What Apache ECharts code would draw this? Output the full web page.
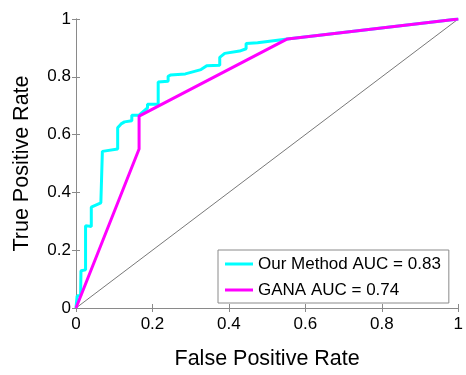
<!DOCTYPE html>
<html>
<head>
<meta charset="utf-8">
<script src="https://cdn.jsdelivr.net/npm/echarts@6/dist/echarts.min.js"></script>
<style>
  html, body { margin: 0; padding: 0; background: #fff; }
  #chart { width: 466px; height: 375px; }
</style>
</head>
<body>
<div id="chart"></div>
<script>
// ROC points (FPR, TPR)
const oursFpr = [0, 0.003, 0.012, 0.013, 0.025, 0.025, 0.04, 0.04, 0.065, 0.069, 0.069, 0.109, 0.109, 0.118, 0.127, 0.146, 0.146, 0.165, 0.187, 0.187, 0.215, 0.215, 0.241, 0.241, 0.247, 0.286, 0.327, 0.342, 0.376, 0.376, 0.389, 0.428, 0.445, 0.445, 0.475, 0.553, 1]
const oursTpr = [0, 0.042, 0.042, 0.129, 0.132, 0.285, 0.282, 0.349, 0.364, 0.37, 0.542, 0.55, 0.624, 0.637, 0.644, 0.648, 0.667, 0.667, 0.692, 0.705, 0.705, 0.782, 0.785, 0.802, 0.806, 0.81, 0.825, 0.838, 0.84, 0.867, 0.881, 0.889, 0.897, 0.915, 0.918, 0.931, 1]
const ganaFpr = [0, 0.165, 0.165, 0.553, 1]
const ganaTpr = [0, 0.55, 0.664, 0.931, 1]
const chanceFpr = [0, 1]
const chanceTpr = [0, 1]

const seriesNames = ["Our Method AUC = 0.83", "GANA AUC = 0.74"]

const zip = (xs, ys) => xs.map((x, i) => [x, ys[i]])
const font = "'Liberation Sans', Arial, sans-serif"
const boxColor = "#8a8a8a"

const chart = echarts.init(document.getElementById("chart"))

const axisCommon = {
  type: "value",
  min: 0,
  max: 1,
  interval: 0.2,
  splitLine: { show: false },
  axisLine: { show: true, lineStyle: { color: boxColor, width: 1 } },
  axisTick: { show: true, inside: true, length: 4, lineStyle: { color: boxColor } },
}

chart.setOption({
  animation: false,
  backgroundColor: "#fff",
  textStyle: { fontFamily: font },
  grid: { left: 76, right: 3, top: 19, bottom: 61 },
  xAxis: [
    {
      ...axisCommon,
      position: "bottom",
      name: "False Positive Rate",
      nameLocation: "middle",
      nameGap: 40,
      nameTextStyle: { fontSize: 21.5, color: "#000", fontFamily: font },
      axisLabel: { fontSize: 17, color: "#000", margin: 8, fontFamily: font },
    },
    { ...axisCommon, position: "top", axisLabel: { show: false } },
  ],
  yAxis: [
    {
      ...axisCommon,
      position: "left",
      name: "True Positive Rate",
      nameLocation: "middle",
      nameGap: 43,
      nameTextStyle: { fontSize: 21.5, color: "#000", fontFamily: font },
      axisLabel: { fontSize: 17, color: "#000", margin: 5, fontFamily: font },
    },
    { ...axisCommon, position: "right", axisLabel: { show: false } },
  ],
  legend: {
    orient: "vertical",
    left: 218,
    top: 250,
    padding: [4, 8, 3, 7],
    icon: "rect",
    itemWidth: 28,
    itemHeight: 3,
    itemGap: 6,
    borderColor: boxColor,
    borderWidth: 1,
    backgroundColor: "#fff",
    textStyle: { fontSize: 17, color: "#000", lineHeight: 20, fontFamily: font },
    data: seriesNames,
  },
  series: [
    {
      name: "chance",
      type: "line",
      data: zip(chanceFpr, chanceTpr),
      symbol: "none",
      lineStyle: { color: "#555", width: 0.8 },
      z: 1,
    },
    {
      name: seriesNames[0],
      type: "line",
      data: zip(oursFpr, oursTpr),
      symbol: "none",
      color: "#00ffff",
      lineStyle: { color: "#00ffff", width: 3 },
      z: 2,
    },
    {
      name: seriesNames[1],
      type: "line",
      data: zip(ganaFpr, ganaTpr),
      symbol: "none",
      color: "#ff00ff",
      lineStyle: { color: "#ff00ff", width: 3 },
      z: 3,
    },
  ],
})
</script>
</body>
</html>
